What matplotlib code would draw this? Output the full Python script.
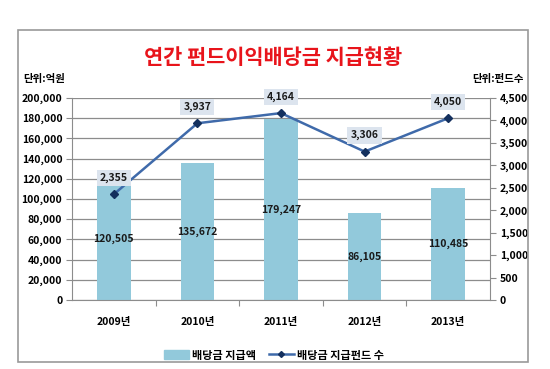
import matplotlib
matplotlib.use("Agg")
import matplotlib.pyplot as plt
from matplotlib.patches import Rectangle
from matplotlib.ticker import FuncFormatter, MultipleLocator

plt.rcParams['font.family'] = ['Noto Sans CJK KR', 'DejaVu Sans']

# Data
years = ["2009년", "2010년", "2011년", "2012년", "2013년"]
payout = [120505, 135672, 179247, 86105, 110485]      # 배당금 지급액 (억원)
funds = [2355, 3937, 4164, 3306, 4050]               # 배당금 지급펀드 수

bar_color = "#92C9DB"
line_color = "#3F6AAA"
marker_color = "#14305E"
box_color = "#DCE4EE"

fig = plt.figure(figsize=(5.5, 3.69), dpi=100)
fig.patch.set_facecolor("white")

# outer chart border
fig.patches.append(Rectangle((18 / 550, 1 - 362 / 369), 510 / 550, 332 / 369,
                             transform=fig.transFigure, fill=False,
                             edgecolor="#9A9A9A", linewidth=1.2))

ax = fig.add_axes([72 / 550, 1 - 300 / 369, 418 / 550, 202 / 369])
x = list(range(len(years)))

ax.bar(x, payout, width=0.4, color=bar_color, zorder=2)
ax.set_xlim(-0.5, 4.5)
ax.set_ylim(0, 200000)
ax.yaxis.set_major_locator(MultipleLocator(20000))
ax.yaxis.set_major_formatter(FuncFormatter(lambda v, p: f"{int(v):,}"))
ax.grid(axis="y", color="#8C8C8C", linewidth=0.9, zorder=0)
ax.set_axisbelow(True)
ax.set_xticks([i + 0.5 for i in x[:-1]], minor=False)
ax.set_xticks(x, minor=True)
ax.set_xticklabels([], minor=False)
ax.set_xticklabels(years, minor=True)
ax.tick_params(axis="x", which="major", length=4, color="#8C8C8C")
ax.tick_params(axis="x", which="minor", length=0, pad=12, labelsize=7.5)
ax.tick_params(axis="y", length=4, color="#8C8C8C", labelsize=7.5, pad=3)
for lab in ax.get_xticklabels(minor=True) + ax.get_yticklabels():
    lab.set_fontweight("bold")
for side in ["top", "right"]:
    ax.spines[side].set_visible(False)
ax.spines["left"].set_color("#8C8C8C")
ax.spines["bottom"].set_color("#8C8C8C")

for xi, v in zip(x, payout):
    ax.text(xi, v / 2, f"{v:,}", ha="center", va="center", fontsize=7.5,
            fontweight="bold", color="#1A1A1A", zorder=4)

ax2 = ax.twinx()
ax2.set_ylim(0, 4500)
ax2.yaxis.set_major_locator(MultipleLocator(500))
ax2.yaxis.set_major_formatter(FuncFormatter(lambda v, p: f"{int(v):,}"))
ax2.tick_params(axis="y", length=4, color="#8C8C8C", labelsize=7.5, pad=3)
for lab in ax2.get_yticklabels():
    lab.set_fontweight("bold")
for side in ["top", "left", "bottom"]:
    ax2.spines[side].set_visible(False)
ax2.spines["right"].set_color("#8C8C8C")

ax2.plot(x, funds, color=line_color, linewidth=1.8, marker="D",
         markersize=4, markerfacecolor=marker_color,
         markeredgecolor=marker_color, zorder=3)
for xi, v in zip(x, funds):
    ax2.annotate(f"{v:,}", (xi, v), xytext=(0, 8), textcoords="offset points",
                 ha="center", va="bottom", fontsize=7.5, fontweight="bold",
                 color="#1A1A1A",
                 bbox=dict(boxstyle="square,pad=0.3", facecolor=box_color,
                           edgecolor="none"))

fig.text(273 / 550, 1 - 57 / 369, "연간 펀드이익배당금 지급현황", ha="center",
         va="center", fontsize=15, fontweight="bold", color="#E8141B")
fig.text(23 / 550, 1 - 79 / 369, "단위:억원", ha="left", va="center",
         fontsize=7.5, fontweight="bold")
fig.text(524 / 550, 1 - 79 / 369, "단위:펀드수", ha="right", va="center",
         fontsize=7.5, fontweight="bold")

h1 = Rectangle((0, 0), 1, 1, color=bar_color)
h2, = ax2.plot([], [], color=line_color, linewidth=1.8, marker="D",
               markersize=3, markerfacecolor=marker_color,
               markeredgecolor=marker_color)
fig.legend([h1, h2], ["배당금 지급액", "배당금 지급펀드 수"],
           loc="center", bbox_to_anchor=(274 / 550, 1 - 355 / 369), ncol=2,
           frameon=False, prop=dict(size=8, weight="bold"),
           handlelength=2.2, handleheight=0.8, columnspacing=1.2,
           handletextpad=0.3)

fig.savefig("out.png", dpi=100)
